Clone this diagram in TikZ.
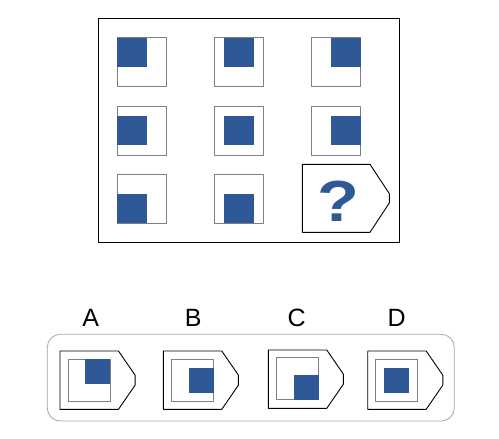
\documentclass[tikz,border=0pt]{standalone}
\usepackage{fontspec}
\setmainfont{Liberation Sans}
\definecolor{tileblue}{HTML}{2F5896}
\definecolor{tilegrey}{HTML}{7A7F88}
% one square with its blue block: left, top, size, block size, fx, fy
\newcommand{\puzzlecell}[6]{%
  \draw[cell line] (#1,#2) rectangle ++(#3,#3);
  \fill[tileblue] ({#1+(#3-#4)*#5},{#2+(#3-#4)*#6}) rectangle ++(#4,#4);
}
% tag shaped box: left, top, width, height, tip, tip edge
\newcommand{\tagbox}[6]{%
  \draw[tag line] (#1,#2) -- ++(#3,0) -- ++(#5,{#4/2-#6/2}) -- ++(0,#6)
    -- ++(-#5,{#4/2-#6/2}) -- ++(-#3,0) -- cycle;
}
\begin{document}
\begin{tikzpicture}[x=1pt, y=-1pt, line cap=round, line join=round]
	\tikzset{cell line/.style={draw=tilegrey, line width=0.8pt},
		tag line/.style={draw=black, line width=0.9pt},
		letter/.style={font=\fontsize{25}{25}\selectfont, anchor=base, inner sep=0pt}}
	\useasboundingbox (0,0) rectangle (499,439);
	% the puzzle
	\draw[line width=0.9pt] (98.3,18.3) rectangle (399.3,242.3);
	\foreach \fx/\fy [count=\i from 0] in {0/0, 0.5/0, 1/0, 0/0.5, 0.5/0.5, 1/0.5, 0/1, 0.5/1} {
		\pgfmathtruncatemacro{\col}{mod(\i,3)}
		\pgfmathtruncatemacro{\row}{div(\i,3)}
		\puzzlecell{117.3+97.2*\col}{37.7+68.3*\row}{49}{29.5}{\fx}{\fy}
	}
	\tagbox{302.3}{164.3}{67.7}{68}{19.3}{9.4}
	\node[font=\bfseries\fontsize{58}{58}\selectfont, text=tileblue, anchor=base, inner sep=0pt] (quest) at (338.3,221.7) {\scalebox{1.18}[1]{?}};
	% the choices
	\draw[draw=gray!70, line width=0.8pt, rounded corners=13pt] (47.3,334.3) rectangle (454.3,421);
	\foreach \lab/\x/\ox/\y/\ix/\iy/\fx/\fy in {A/90.7/60/351/68.3/359/1/0,
			B/193.3/163.3/351/171.7/359/1/0.5,
			C/296.7/268.3/350/276.7/357.7/1/1,
			D/396.7/367.7/351/375.7/359/0.5/0.5} {
		\node[letter] (lab\lab) at (\x,326.7) {\lab};
		\tagbox{\ox}{\y}{58.5}{58.3}{16.6}{10}
		\puzzlecell{\ix}{\iy}{42}{25}{\fx}{\fy}
	}
\end{tikzpicture}
\end{document}
